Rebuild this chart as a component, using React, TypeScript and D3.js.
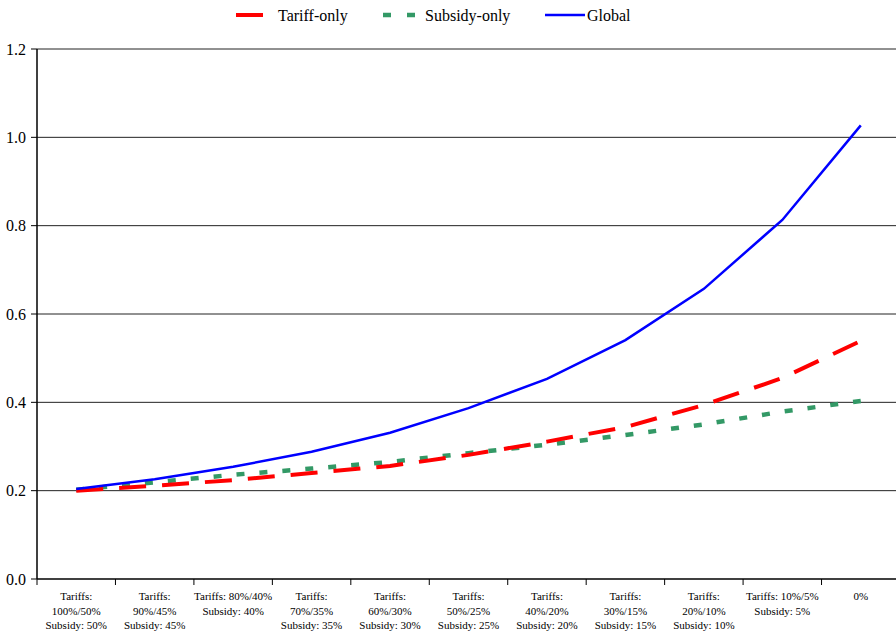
import React from "react";
import * as d3 from "d3";

const categories: string[][] = [
  ["Tariffs:", "100%/50%", "Subsidy: 50%"],
  ["Tariffs:", "90%/45%", "Subsidy: 45%"],
  ["Tariffs: 80%/40%", "Subsidy: 40%"],
  ["Tariffs:", "70%/35%", "Subsidy: 35%"],
  ["Tariffs:", "60%/30%", "Subsidy: 30%"],
  ["Tariffs:", "50%/25%", "Subsidy: 25%"],
  ["Tariffs:", "40%/20%", "Subsidy: 20%"],
  ["Tariffs:", "30%/15%", "Subsidy: 15%"],
  ["Tariffs:", "20%/10%", "Subsidy: 10%"],
  ["Tariffs: 10%/5%", "Subsidy: 5%"],
  ["0%"],
];

const tariffOnly = [0.2, 0.211, 0.224, 0.24, 0.256, 0.281, 0.311, 0.344, 0.394, 0.455, 0.539];
const subsidyOnly = [0.202, 0.219, 0.236, 0.25, 0.265, 0.285, 0.304, 0.326, 0.35, 0.379, 0.403];
const globalVals = [0.204, 0.226, 0.254, 0.288, 0.331, 0.387, 0.453, 0.541, 0.657, 0.813, 1.027];

const yTicks = [0, 0.2, 0.4, 0.6, 0.8, 1.0, 1.2];

const W = 896;
const H = 634;
const left = 37;
const right = 900;
const top = 49;
const bottom = 579;

export default function App() {
  const x = d3
    .scaleBand<number>()
    .domain(categories.map((_, i) => i))
    .range([left, right])
    .paddingInner(0)
    .paddingOuter(0);
  const y = d3.scaleLinear().domain([0, 1.2]).range([bottom, top]);
  const cx = (i: number) => (x(i) as number) + x.bandwidth() / 2;

  const line = d3
    .line<number>()
    .x((_, i) => cx(i))
    .y((d) => y(d))
    .curve(d3.curveLinear);

  const font = '"Times New Roman", "Liberation Serif", Tinos, "DejaVu Serif", serif';
  const boundaries = d3.range(categories.length + 1).map((i) =>
    i < categories.length ? (x(i) as number) : right
  );

  return (
    <svg
      width={W}
      height={H}
      style={{ position: "absolute", left: 0, top: 0, background: "#fff", fontFamily: font }}
    >
      {/* gridlines */}
      {yTicks.slice(1).map((t) => (
        <line key={t} x1={left} x2={right} y1={y(t)} y2={y(t)} stroke="#222" strokeWidth={1} />
      ))}
      {/* y axis */}
      <line x1={left} x2={left} y1={top} y2={bottom} stroke="#000" strokeWidth={1.5} />
      {yTicks.map((t) => (
        <g key={"yt" + t}>
          <line x1={left - 6} x2={left} y1={y(t)} y2={y(t)} stroke="#000" strokeWidth={1} />
          <text x={left - 11} y={y(t)} dy="0.35em" textAnchor="end" fontSize={16} fill="#000" style={{ fontFamily: font }}>
            {t.toFixed(1)}
          </text>
        </g>
      ))}
      {/* x axis */}
      <line x1={left} x2={right} y1={bottom} y2={bottom} stroke="#000" strokeWidth={1.5} />
      {boundaries.map((b, i) => (
        <line key={"xt" + i} x1={b} x2={b} y1={bottom} y2={bottom + 6} stroke="#000" strokeWidth={1} />
      ))}
      {categories.map((lines, i) => (
        <text key={"xl" + i} x={cx(i)} y={600} textAnchor="middle" fontSize={11} fill="#000" style={{ fontFamily: font }}>
          {lines.map((l, j) => (
            <tspan key={j} x={cx(i)} dy={j === 0 ? 0 : 14.5}>
              {l}
            </tspan>
          ))}
        </text>
      ))}
      {/* series */}
      <path d={line(subsidyOnly) || ""} fill="none" stroke="#339966" strokeWidth={4.5} strokeDasharray="8,15" />
      <path d={line(tariffOnly) || ""} fill="none" stroke="#ff0000" strokeWidth={4} strokeDasharray="27,16" />
      <path d={line(globalVals) || ""} fill="none" stroke="#0000ff" strokeWidth={2.5} />
      {/* legend */}
      <g fontSize={16} fill="#000" style={{ fontFamily: font }}>
        <line x1={236} x2={263} y1={15} y2={15} stroke="#ff0000" strokeWidth={4} />
        <text x={278} y={15} dy="0.35em">Tariff-only</text>
        <line x1={383} x2={416} y1={15} y2={15} stroke="#339966" strokeWidth={4.5} strokeDasharray="8,16" />
        <text x={425} y={15} dy="0.35em">Subsidy-only</text>
        <line x1={545} x2={585} y1={15} y2={15} stroke="#0000ff" strokeWidth={2.5} />
        <text x={587} y={15} dy="0.35em">Global</text>
      </g>
    </svg>
  );
}
